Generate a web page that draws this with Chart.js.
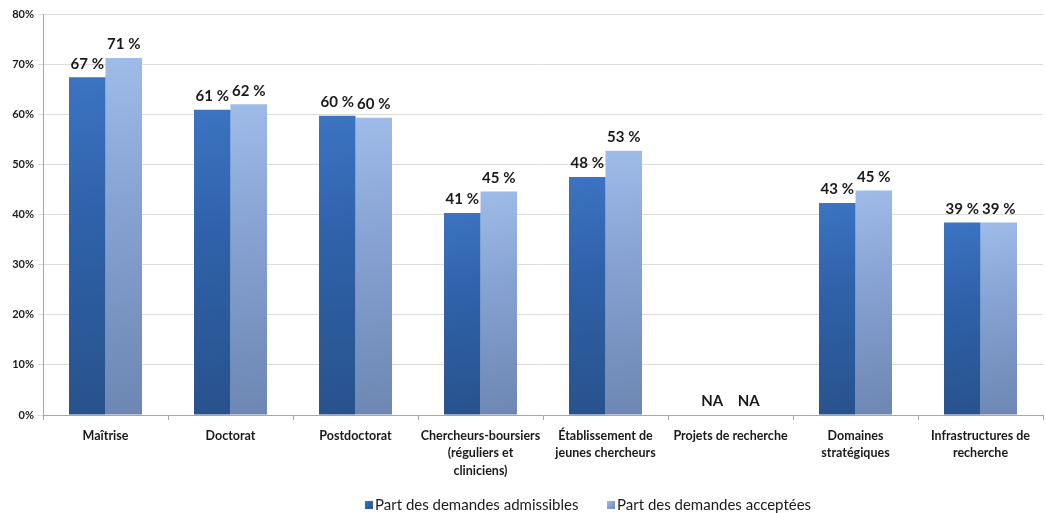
<!DOCTYPE html>
<html>
<head>
<meta charset="utf-8">
<script src="https://cdn.jsdelivr.net/npm/chart.js@4.4.1/dist/chart.umd.min.js"></script>
<style>
  body { margin: 0; background: #fff; }
  #wrap { width: 1046px; height: 513px; }
</style>
</head>
<body>
<div id="wrap"><canvas id="barChart"></canvas></div>
<script>
var categories = [
  'Maîtrise',
  'Doctorat',
  'Postdoctorat',
  ['Chercheurs-boursiers', '(réguliers et', 'cliniciens)'],
  ['Établissement de', 'jeunes chercheurs'],
  'Projets de recherche',
  ['Domaines', 'stratégiques'],
  ['Infrastructures de', 'recherche']
];
// valeurs (en %)
var admissibles = [67.4, 60.9, 59.7, 40.3, 47.5, null, 42.3, 38.4];
var acceptees   = [71.2, 62.0, 59.3, 44.6, 52.7, null, 44.8, 38.4];
// étiquettes affichées au-dessus des barres
var labelsAdmissibles = ['67 %', '61 %', '60 %', '41 %', '48 %', 'NA', '43 %', '39 %'];
var labelsAcceptees   = ['71 %', '62 %', '60 %', '45 %', '53 %', 'NA', '45 %', '39 %'];
var seriesNames = ['Part des demandes admissibles', 'Part des demandes acceptées'];

var fontFam = 'Lato, "Open Sans", sans-serif';
var colors = [
  ['#3c74c2', '#2f62aa', '#28528c'],
  ['#9fbbe8', '#87a3d3', '#6d86b2']
];

// degradé sur chaque barre (plus clair en haut, plus sombre en bas et a droite)
var gradientBars = {
  id: 'gradientBars',
  beforeDatasetsDraw: function (chart) {
    var c = chart.ctx;
    var base = chart.scales.y.getPixelForValue(0);
    chart.data.datasets.forEach(function (ds, d) {
      var meta = chart.getDatasetMeta(d);
      meta.data.forEach(function (el) {
        if (isNaN(el.x) || isNaN(el.y)) return;
        var g = c.createLinearGradient(el.x - el.width / 2, el.y, el.x + el.width / 2, base);
        g.addColorStop(0, colors[d][0]);
        g.addColorStop(0.4, colors[d][1]);
        g.addColorStop(1, colors[d][2]);
        el.options = Object.assign({}, el.options, { backgroundColor: g });
      });
    });
  }
};

var valueLabels = {
  id: 'valueLabels',
  afterDatasetsDraw: function (chart) {
    var c = chart.ctx;
    var yScale = chart.scales.y;
    var all = [labelsAdmissibles, labelsAcceptees];
    c.save();
    c.font = 'bold 15px ' + fontFam;
    c.fillStyle = '#1a1a1a';
    c.textAlign = 'center';
    c.textBaseline = 'bottom';
    chart.data.datasets.forEach(function (ds, d) {
      var meta = chart.getDatasetMeta(d);
      meta.data.forEach(function (el, i) {
        var y = (ds.data[i] === null) ? yScale.getPixelForValue(0) : el.y;
        c.fillText(all[d][i], el.x, y - 6);
      });
    });
    c.restore();
  }
};

// legende dessinée a la main (decalée a droite comme dans l'original)
var bottomLegend = {
  id: 'bottomLegend',
  afterDraw: function (chart) {
    var c = chart.ctx;
    var xs = [365, 607];
    var y = 505;
    c.save();
    c.font = '15px ' + fontFam;
    c.textBaseline = 'middle';
    c.textAlign = 'left';
    seriesNames.forEach(function (name, d) {
      var g = c.createLinearGradient(xs[d], y - 4, xs[d] + 8, y + 4);
      g.addColorStop(0, colors[d][0]);
      g.addColorStop(1, colors[d][2]);
      c.fillStyle = g;
      c.fillRect(xs[d], y - 4, 8, 8);
      c.fillStyle = '#1a1a1a';
      c.fillText(name, xs[d] + 10, y);
    });
    c.restore();
  }
};

var ctx = document.getElementById('barChart').getContext('2d');
var myChart = new Chart(ctx, {
  type: 'bar',
  data: {
    labels: categories,
    datasets: [{
      label: seriesNames[0],
      data: admissibles,
      backgroundColor: colors[0][1],
      borderWidth: 0
    }, {
      label: seriesNames[1],
      data: acceptees,
      backgroundColor: colors[1][1],
      borderWidth: 0
    }]
  },
  options: {
    responsive: true,
    maintainAspectRatio: false,
    animation: false,
    categoryPercentage: 0.584,
    barPercentage: 1,
    layout: { padding: { top: 14, right: 3, bottom: 34, left: 0 } },
    plugins: {
      tooltip: { enabled: false },
      legend: { display: false }
    },
    scales: {
      x: {
        grid: { display: true, drawOnChartArea: false, drawTicks: true, tickLength: 5, color: '#a6a6a6', offset: true },
        border: { color: '#a6a6a6' },
        ticks: {
          color: '#1a1a1a',
          maxRotation: 0,
          autoSkip: false,
          padding: 7,
          font: { family: fontFam, size: 12.5, weight: 'bold', lineHeight: 1.4 }
        },
        afterFit: function (scale) { scale.height = 64; }
      },
      y: {
        min: 0,
        max: 80,
        ticks: {
          stepSize: 10,
          color: '#1a1a1a',
          padding: 4,
          font: { family: fontFam, size: 11, weight: 'bold' },
          callback: function (v) { return v + '%'; }
        },
        grid: { color: '#dcdcdc', tickLength: 5, drawTicks: true },
        border: { color: '#a6a6a6' },
        afterFit: function (scale) { scale.width = 43; }
      }
    }
  },
  plugins: [gradientBars, valueLabels, bottomLegend]
});
</script>
</body>
</html>
